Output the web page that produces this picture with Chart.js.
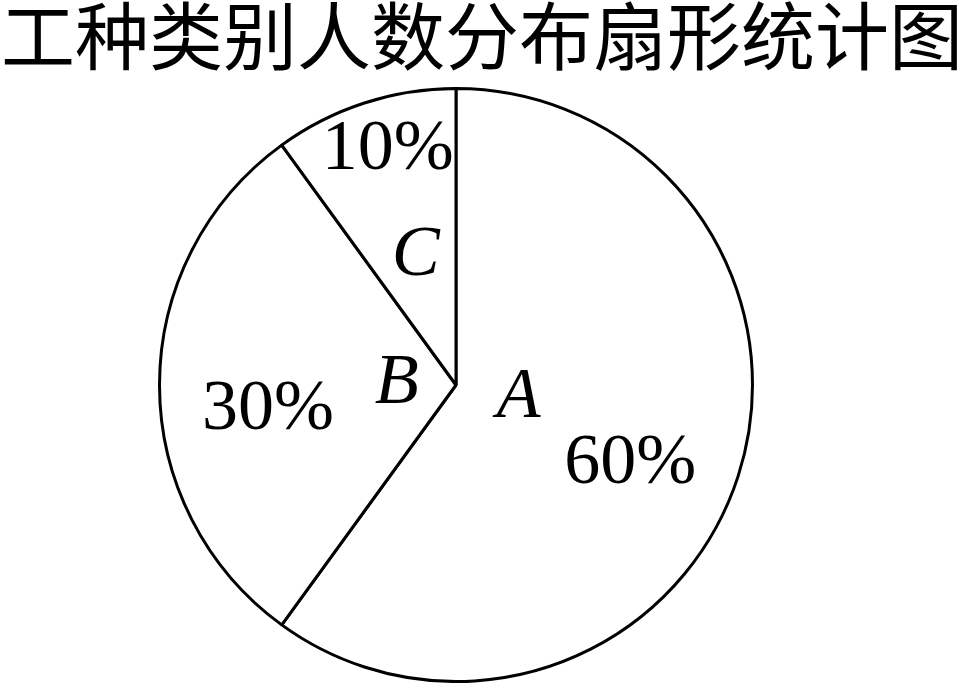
<!DOCTYPE html>
<html>
<head>
<meta charset="utf-8">
<script src="https://cdn.jsdelivr.net/npm/chart.js@4.4.0/dist/chart.umd.min.js"></script>
<style>
  html, body { margin: 0; padding: 0; background: #fff; }
  #wrap { width: 964px; height: 683px; position: relative; }
</style>
</head>
<body>
<div id="wrap"><canvas id="pie"></canvas></div>
<script>
// chart data
const titleText = '工种类别人数分布扇形统计图';
const categories = ['A', 'B', 'C'];
const percents = [60, 30, 10];

// where each label sits inside its slice: fraction along the slice angle, fraction of radius
const letterPos = [[0.47, 0.215], [0.51, 0.2], [0.52, 0.456]];
const percentPos = [[0.53, 0.646], [0.43, 0.64], [0.55, 0.825]];

// title drawn by hand so it stays centred on the whole canvas
const titlePlugin = {
  id: 'titlePlugin',
  afterDraw(chart) {
    const ctx = chart.ctx;
    ctx.save();
    ctx.fillStyle = '#000';
    ctx.font = '74px "Noto Sans CJK SC", sans-serif';
    ctx.textAlign = 'center';
    ctx.textBaseline = 'middle';
    ctx.fillText(titleText, chart.width / 2, 36);
    ctx.restore();
  }
};

// letters and percentages inside the slices
const sliceLabels = {
  id: 'sliceLabels',
  afterDatasetsDraw(chart) {
    const ctx = chart.ctx;
    const arcs = chart.getDatasetMeta(0).data;
    ctx.save();
    ctx.fillStyle = '#000';
    ctx.textAlign = 'center';
    ctx.textBaseline = 'middle';
    arcs.forEach((arc, i) => {
      const p = arc.getProps(['x', 'y', 'startAngle', 'endAngle', 'outerRadius'], true);
      const put = (txt, pos, font) => {
        const a = p.startAngle + (p.endAngle - p.startAngle) * pos[0];
        const r = p.outerRadius * pos[1];
        ctx.font = font;
        ctx.fillText(txt, p.x + r * Math.cos(a), p.y + r * Math.sin(a));
      };
      put(categories[i], letterPos[i], 'italic 72px "Liberation Serif", serif');
      put(percents[i] + '%', percentPos[i], '72px "Liberation Serif", serif');
    });
    ctx.restore();
  }
};

new Chart(document.getElementById('pie'), {
  type: 'pie',
  data: {
    labels: categories,
    datasets: [{
      data: percents,
      backgroundColor: '#fff',
      borderColor: '#000',
      borderWidth: 3,
      hoverOffset: 0
    }]
  },
  options: {
    responsive: true,
    maintainAspectRatio: false,
    animation: false,
    layout: { padding: { top: 87, right: 52, left: 0, bottom: 0 } },
    plugins: {
      legend: { display: false },
      title: { display: false },
      tooltip: { enabled: false }
    }
  },
  plugins: [titlePlugin, sliceLabels]
});
</script>
</body>
</html>
